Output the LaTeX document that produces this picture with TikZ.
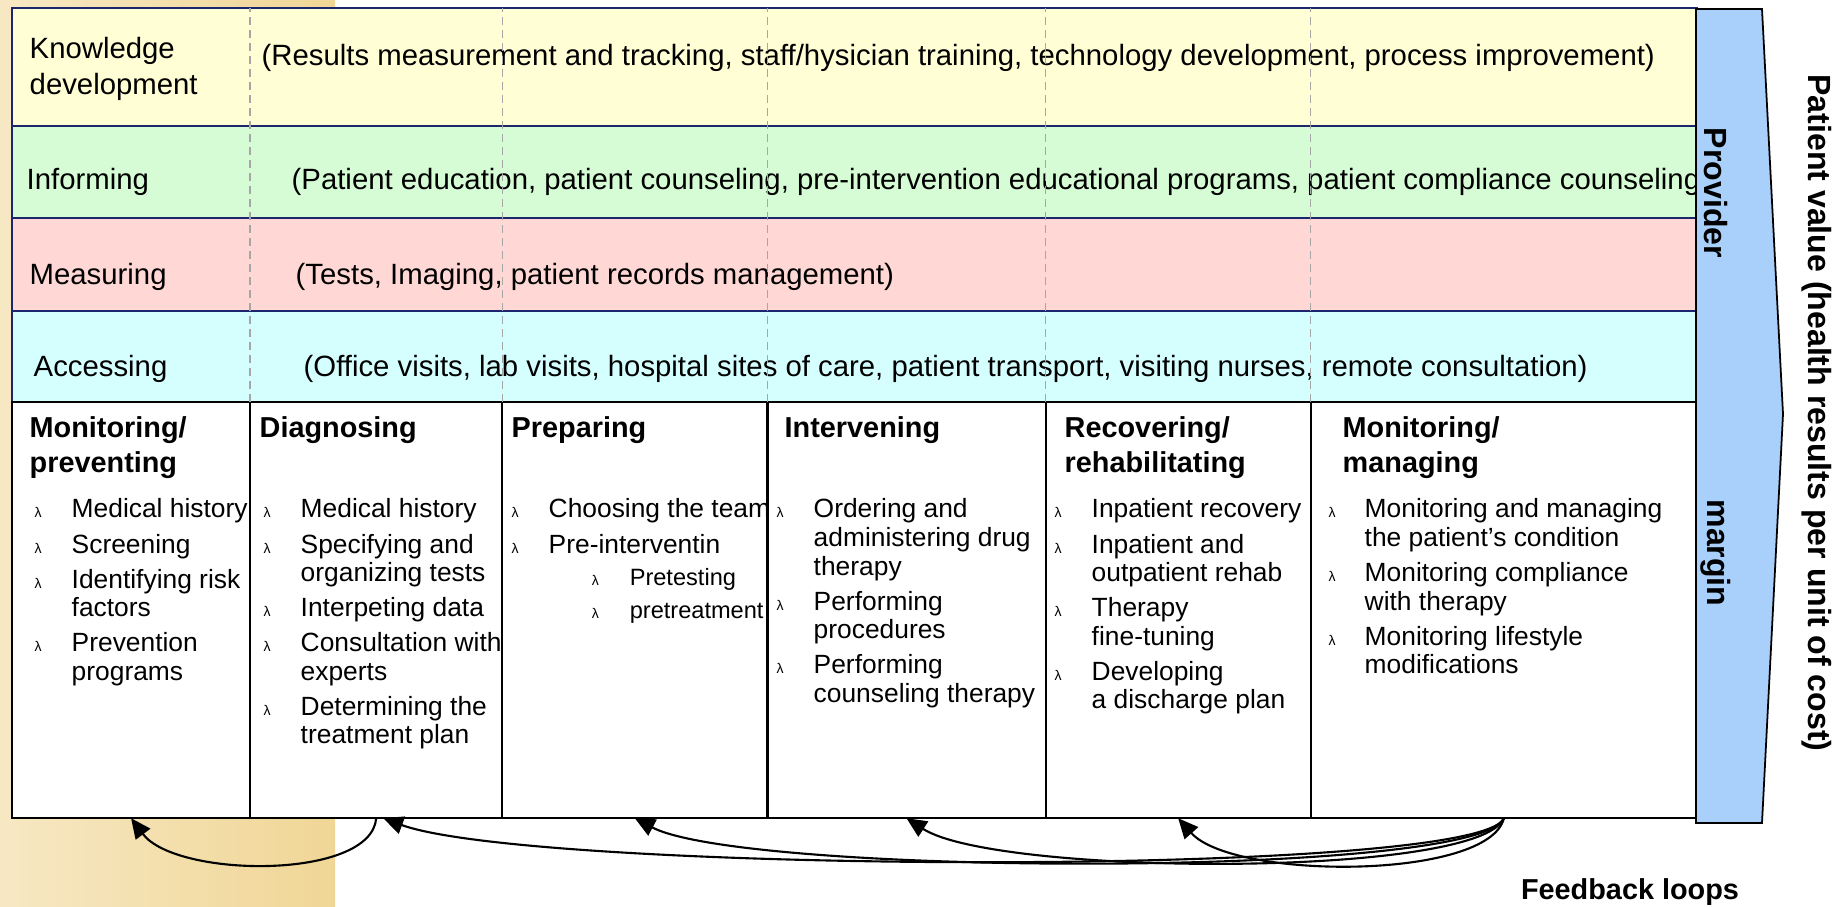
\documentclass[tikz,border=0pt]{standalone}
\usepackage{fontspec}
\setmainfont{Liberation Sans}
\usetikzlibrary{positioning,arrows.meta}
\definecolor{kdcol}{RGB}{255,254,213}
\definecolor{infcol}{RGB}{213,252,213}
\definecolor{meacol}{RGB}{255,215,213}
\definecolor{acccol}{RGB}{213,255,255}
\definecolor{barcol}{RGB}{168,208,250}
\definecolor{tancol}{RGB}{240,214,150}
\definecolor{tanlight}{RGB}{247,232,196}
\definecolor{navy}{RGB}{28,38,110}
\newcommand{\lamb}{{\fontsize{4}{4}\selectfont λ}}
\begin{document}
\begin{tikzpicture}[x=0.01cm, y=-0.01cm,
          band/.style={draw=navy, line width=0.6pt, minimum width=16.84cm, anchor=north west, outer sep=0pt, inner sep=0pt},
          colbox/.style={draw, fill=white, line width=0.6pt, minimum height=4.16cm, anchor=north west, outer sep=0pt, inner sep=0pt},
          lbl/.style={anchor=base west, inner sep=0pt, font=\fontsize{8.34}{9.96}\selectfont},
          head/.style={anchor=base west, inner sep=0pt, font=\bfseries\fontsize{8.2}{9.67}\selectfont},
          itms/.style={anchor=base west, inner sep=0pt, font=\fontsize{7.5}{8.11}\selectfont},
          side/.style={rotate=-90, inner sep=0pt, font=\bfseries\fontsize{9.12}{10}\selectfont},
          guide/.style={draw=gray!70, dash pattern=on 0.08cm off 0.05cm, line width=0.4pt},
          fb/.style={-{Triangle[length=0.2cm, width=0.18cm]}, line width=0.6pt}]
          \useasboundingbox (0,0) rectangle (1845,907);
          % Baggrund fra slidet (tegnes direkte)
          \shade[left color=tanlight, right color=tancol] (0,0) rectangle (335,907);
          % Definer de fire rækker \node(navn)[band, fill=farve, minimum height=højde] {}
          \node[band, fill=kdcol, minimum height=1.18cm] (kd) at (12,8) {};
          \node[band, fill=infcol, minimum height=0.92cm, below=0pt of kd] (inf) {};
          \node[band, fill=meacol, minimum height=0.93cm, below=0pt of inf] (mea) {};
          \node[band, fill=acccol, minimum height=0.91cm, below=0pt of mea] (acc) {};
          \node[lbl] (kdl) at (29,59) {\begin{tabular}[t]{@{}l@{}}Knowledge\\development\end{tabular}};
          \node[lbl] (kdt) at (261,66) {(Results measurement and tracking, staff/hysician training, technology development, process improvement)};
          \node[lbl] (infl) at (26,190) {Informing};
          \node[lbl] (inft) at (291,190) {(Patient education, patient counseling, pre-intervention educational programs, patient compliance counseling};
          \node[lbl] (meal) at (29,285) {Measuring};
          \node[lbl] (meat) at (295,285) {(Tests, Imaging, patient records management)};
          \node[lbl] (accl) at (33,377) {Accessing};
          \node[lbl] (acct) at (303,377) {(Office visits, lab visits, hospital sites of care, patient transport, visiting nurses, remote consultation)};
          % Kolonnerne placeres ved siden af hinanden med right=0pt of
          \node[colbox, minimum width=2.38cm] (c1) at (12,402) {};
          \node[colbox, minimum width=2.52cm, right=0pt of c1] (c2) {};
          \node[colbox, minimum width=2.65cm, right=0pt of c2] (c3) {};
          \node[colbox, minimum width=2.78cm, right=0pt of c3] (c4) {};
          \node[colbox, minimum width=2.65cm, right=0pt of c4] (c5) {};
          \node[colbox, minimum width=3.86cm, right=0pt of c5] (c6) {};
          \draw[guide] (c1.north east) -- (c1.north east |- kd.north)
                       (c2.north east) -- (c2.north east |- kd.north)
                       (c3.north east) -- (c3.north east |- kd.north)
                       (c4.north east) -- (c4.north east |- kd.north)
                       (c5.north east) -- (c5.north east |- kd.north);
          \node[head] (h1) at (29,438) {\begin{tabular}[t]{@{}l@{}}Monitoring/\\preventing\end{tabular}};
          \node[head] (h2) at (259,438) {Diagnosing};
          \node[head] (h3) at (511,438) {Preparing};
          \node[head] (h4) at (784,438) {Intervening};
          \node[head] (h5) at (1064,438) {\begin{tabular}[t]{@{}l@{}}Recovering/\\rehabilitating\end{tabular}};
          \node[head] (h6) at (1342,438) {\begin{tabular}[t]{@{}l@{}}Monitoring/\\managing\end{tabular}};
          % Punkter i hver kolonne
          \node[itms] (l1) at (34,518) {\begin{tabular}[t]{@{}p{0.37cm}@{}l@{}}
            \lamb & Medical history\\[0.065cm]
            \lamb & Screening\\[0.065cm]
            \lamb & Identifying risk\\ & factors\\[0.065cm]
            \lamb & Prevention\\ & programs
          \end{tabular}};
          \node[itms] (l2) at (263,518) {\begin{tabular}[t]{@{}p{0.37cm}@{}l@{}}
            \lamb & Medical history\\[0.065cm]
            \lamb & Specifying and\\ & organizing tests\\[0.065cm]
            \lamb & Interpeting data\\[0.065cm]
            \lamb & Consultation with\\ & experts\\[0.065cm]
            \lamb & Determining the\\ & treatment plan
          \end{tabular}};
          \node[itms] (l3) at (511,518) {\begin{tabular}[t]{@{}p{0.37cm}@{}l@{}}
            \lamb & Choosing the team\\[0.065cm]
            \lamb & Pre-interventin\\[0.035cm]
            & \hspace{0.43cm}\makebox[0.38cm][l]{\lamb}{\fontsize{6.71}{7.3}\selectfont Pretesting}\\[0.045cm]
            & \hspace{0.43cm}\makebox[0.38cm][l]{\lamb}{\fontsize{6.71}{7.3}\selectfont pretreatment}
          \end{tabular}};
          \node[itms] (l4) at (776,518) {\begin{tabular}[t]{@{}p{0.37cm}@{}l@{}}
            \lamb & Ordering and\\ & administering drug\\ & therapy\\[0.065cm]
            \lamb & Performing\\ & procedures\\[0.065cm]
            \lamb & Performing\\ & counseling therapy
          \end{tabular}};
          \node[itms] (l5) at (1054,518) {\begin{tabular}[t]{@{}p{0.37cm}@{}l@{}}
            \lamb & Inpatient recovery\\[0.065cm]
            \lamb & Inpatient and\\ & outpatient rehab\\[0.065cm]
            \lamb & Therapy\\ & fine-tuning\\[0.065cm]
            \lamb & Developing\\ & a discharge plan
          \end{tabular}};
          \node[itms] (l6) at (1328,518) {\begin{tabular}[t]{@{}p{0.36cm}@{}l@{}}
            \lamb & Monitoring and managing\\ & the patient’s condition\\[0.065cm]
            \lamb & Monitoring compliance\\ & with therapy\\[0.065cm]
            \lamb & Monitoring lifestyle\\ & modifications
          \end{tabular}};
          % Pilen til højre (tegnes direkte)
          \draw[fill=barcol, line width=0.5pt] (1696,9) -- (1762,9) -- (1783,414) -- (1762,823) -- (1696,823) -- cycle;
          \node[side] (prov) at (1716,193) {Provider};
          \node[side] (marg) at (1716,553) {margin};
          \node[side] (pval) at (1817,413) {Patient value (health results per unit of cost)};
          % Feedback-pile mellem kolonnerne
          \draw[fb] (c2.south) .. controls +(-5,62) and +(45,60) .. (c1.south);
          \draw[fb] (c6.south) .. controls +(-25,60) and +(150,55) .. ([xshift=0.07cm]c2.south);
          \draw[fb] (c6.south) .. controls +(-25,60) and +(110,58) .. (c3.south);
          \draw[fb] (c6.south) .. controls +(-25,60) and +(90,58) .. (c4.south);
          \draw[fb] (c6.south) .. controls +(-15,62) and +(55,62) .. (c5.south);
          \node[font=\bfseries\fontsize{8.2}{9}\selectfont, inner sep=0pt] (fbl) at (1630,892) {Feedback loops};
        \end{tikzpicture}
\end{document}
